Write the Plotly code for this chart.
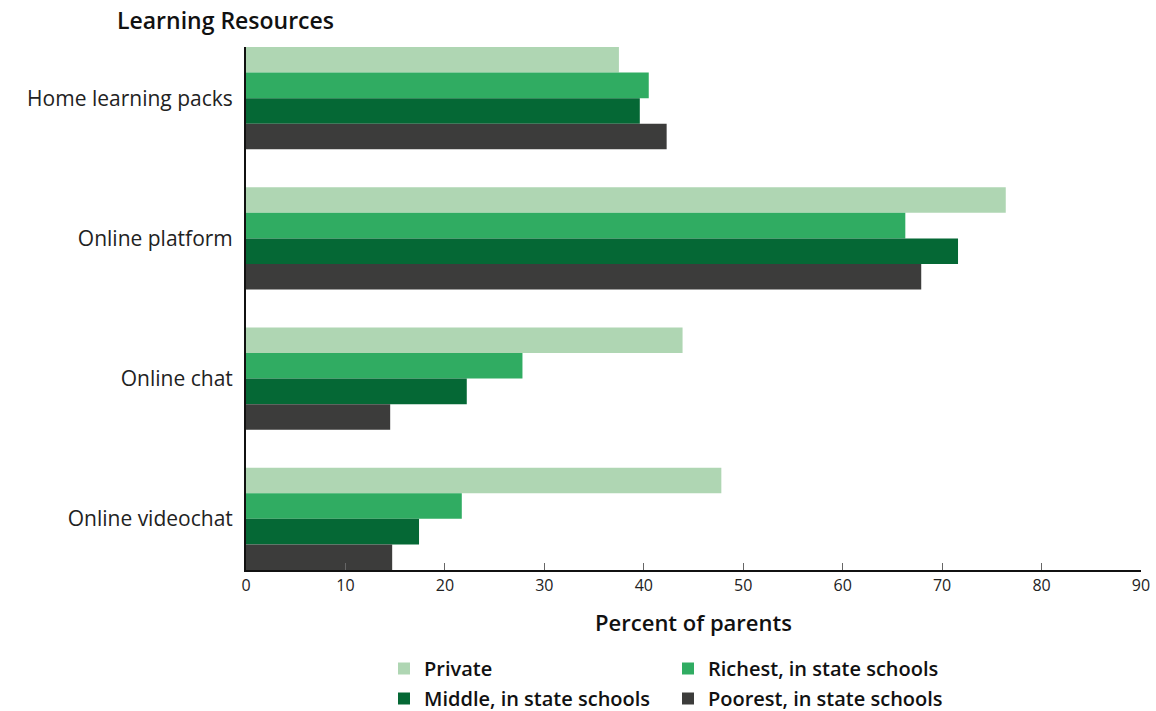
import plotly.graph_objects as go

categories = ["Home learning packs", "Online platform", "Online chat", "Online videochat"]
series_names = ["Private", "Richest, in state schools", "Middle, in state schools", "Poorest, in state schools"]
private = [37.5, 76.4, 43.9, 47.8]
richest = [40.5, 66.3, 27.8, 21.7]
middle = [39.6, 71.6, 22.2, 17.4]
poorest = [42.3, 67.9, 14.5, 14.7]
colors = ["#AFD6B3", "#30AC62", "#056835", "#3C3C3B"]
x_ticks = [0, 10, 20, 30, 40, 50, 60, 70, 80, 90]

# legend rows: first row Private / Richest, second row Middle / Poorest
legend_ids = ["legend", "legend", "legend2", "legend2"]

fig = go.Figure()
for i, (name, vals, col) in enumerate(zip(series_names, [private, richest, middle, poorest], colors)):
    fig.add_trace(go.Bar(y=categories, x=vals, name=name, orientation="h",
                         legend=legend_ids[i],
                         marker=dict(color=col, line=dict(width=0))))

font_family = "'Open Sans', 'Noto Sans', sans-serif"
legend_common = dict(orientation="h", xref="container", xanchor="left",
                     yref="container", yanchor="top", traceorder="normal",
                     entrywidth=239, entrywidthmode="pixels", bgcolor="rgba(0,0,0,0)",
                     font=dict(size=20, color="#111", weight=600), itemsizing="constant")
fig.update_layout(
    width=1156, height=711,
    margin=dict(l=246, r=15, t=47, b=141),
    paper_bgcolor="white", plot_bgcolor="white",
    barmode="group", bargap=0.27, bargroupgap=0,
    font=dict(family=font_family, color="#1a1a1a"),
    title=dict(text="Learning Resources", x=117/1156, xref="container", xanchor="left",
               y=1-21/711, yref="container", yanchor="middle",
               font=dict(size=23, color="#111", weight=600)),
    showlegend=True,
    legend=dict(x=384/1156, y=1-649/711, **legend_common),
    legend2=dict(x=384/1156, y=1-679/711, **legend_common),
)
fig.update_xaxes(range=[0, 90], tickvals=x_ticks, showgrid=False, zeroline=False,
                 automargin=False,
                 showline=True, linecolor="#111", linewidth=2,
                 ticks="inside", ticklen=7, tickcolor="#666", tickwidth=1,
                 tickfont=dict(size=16, color="#222"),
                 title=dict(text="Percent of parents", font=dict(size=22, color="#111", weight=600), standoff=20))
fig.update_yaxes(categoryorder="array", categoryarray=categories,
                 range=[3.365, -0.365], showgrid=False, zeroline=False,
                 automargin=False,
                 showline=True, linecolor="#111", linewidth=2, ticks="",
                 ticklabelstandoff=7,
                 tickfont=dict(size=21, color="#222"))

fig.write_html("out.html", config={"displayModeBar": False},
               post_script="document.body.style.margin='0px';")
